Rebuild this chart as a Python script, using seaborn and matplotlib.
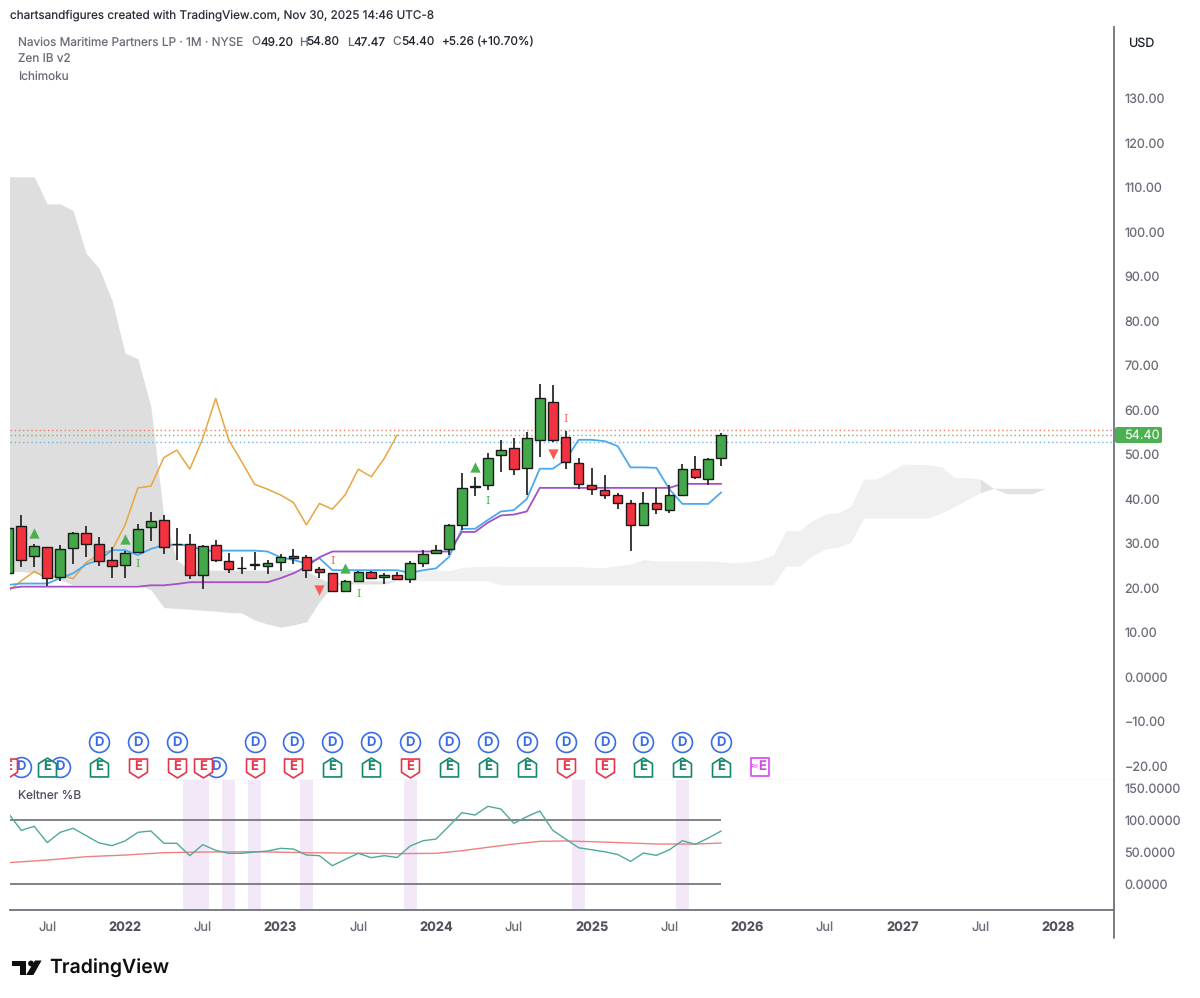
import numpy as np
import pandas as pd
import seaborn as sns
import matplotlib.pyplot as plt
from matplotlib.lines import Line2D
from matplotlib.patches import FancyBboxPatch
from matplotlib.path import Path

sns.set_theme(style="white")
plt.rcParams["font.family"] = ["Inter", "Liberation Sans", "DejaVu Sans"]
plt.rcParams["text.hinting"] = "no_hinting"

# months counted from Jan 2022, candles run Apr 2021 - Nov 2025
months = list(range(-9, 47))
opens = [23.4, 33.9, 27.2, 29.3, 22.4, 28.9, 32.4, 29.9, 26.4, 25.2, 28.0, 33.6, 35.3, 29.95,
         29.9, 23.0, 29.6, 26.0, 24.6, 25.35, 25.0, 25.8, 27.3, 26.9, 24.2, 23.3, 19.3, 21.6,
         23.7, 22.4, 23.0, 22.1, 25.7, 27.8, 28.7, 34.1, 42.7, 43.2, 49.8, 51.4, 46.9, 53.3,
         61.9, 53.9, 48.2, 43.1, 42.0, 40.8, 39.0, 34.1, 39.2, 37.5, 41.0, 46.7, 44.5, 49.20]
highs = [34.0, 36.4, 29.9, 29.3, 29.6, 32.6, 33.9, 31.4, 29.1, 28.4, 34.3, 37.1, 36.3, 33.4,
         32.1, 29.7, 30.7, 27.9, 26.9, 28.2, 26.4, 27.6, 28.7, 27.4, 24.7, 23.3, 21.8, 23.8,
         23.9, 23.4, 23.6, 26.1, 28.5, 29.6, 34.4, 45.8, 44.9, 50.3, 53.3, 53.8, 55.0, 65.9,
         65.7, 55.3, 49.3, 46.9, 45.5, 41.4, 39.8, 41.5, 42.5, 43.1, 47.9, 49.6, 49.1, 54.80]
lows = [23.0, 24.8, 24.8, 20.4, 21.6, 25.4, 26.9, 25.0, 22.3, 22.3, 27.8, 30.6, 27.6, 26.3,
        22.0, 19.7, 25.8, 23.4, 23.1, 24.0, 23.1, 23.8, 25.5, 22.2, 22.2, 19.3, 19.3, 21.4,
        22.1, 21.0, 21.8, 21.2, 24.8, 27.8, 27.4, 33.1, 40.7, 42.0, 46.1, 45.5, 40.9, 49.4,
        52.8, 46.8, 42.2, 40.8, 40.0, 37.8, 28.4, 34.1, 36.6, 36.8, 41.0, 44.6, 43.1, 47.47]
closes = [33.4, 26.4, 29.4, 22.2, 28.8, 32.3, 29.9, 26.1, 25.0, 27.8, 33.2, 35.0, 29.3, 29.85,
          23.0, 29.5, 26.3, 24.3, 24.55, 25.25, 25.7, 27.0, 26.7, 24.1, 23.7, 19.3, 21.6, 23.7,
          22.2, 23.0, 22.1, 25.7, 27.6, 28.5, 34.1, 42.5, 43.0, 49.3, 51.0, 46.7, 53.6, 62.6,
          53.3, 48.4, 43.3, 42.2, 40.9, 39.2, 34.2, 39.0, 37.7, 41.0, 46.7, 45.0, 49.0, 54.40]

tenkan = [20.7, 21, 21, 21, 22.2, 23.3, 25.3, 26.3, 28.5, 28.5, 27.4, 28.8, 29.6, 29.7, 29.6,
          28.4, 28.4, 28.4, 28.4, 28.4, 28.2, 26.9, 26.3, 25.5, 26.7, 24, 24, 24, 24, 24, 24,
          23.4, 24, 24.4, 27, 33.3, 33.3, 35.3, 37.2, 37.5, 40, 46.8, 46.8, 48.8, 53.3, 53.3,
          53, 51.9, 47.1, 47.1, 47, 42.2, 38.9, 38.9, 38.9, 41.5]
kijun = [19.9, 20.3, 20.3, 20.3, 20.3, 20.3, 20.3, 20.3, 20.3, 20.3, 20.3, 20.6, 20.6, 20.9, 21.3,
         21.3, 21.3, 21.3, 21.3, 21.3, 21.3, 22.2, 23.3, 24.8, 26.9, 28.2, 28.2, 28.2, 28.2, 28.2,
         28.2, 28.2, 28.2, 28.2, 28.2, 32.6, 32.6, 34.7, 36.3, 36.5, 37.2, 42.5, 42.5, 42.5, 42.5,
         42.5, 42.5, 42.5, 42.5, 42.5, 42.5, 42.5, 43.4, 43.4, 43.4, 43.4]
chikou_months = list(range(-9, 22))
chikou = [19.3, 21.6, 23.7, 22.2, 23.0, 22.1, 25.7, 27.6, 28.5, 34.1, 42.5, 42.9, 49.3, 51.0, 46.7,
          53.6, 62.6, 53.3, 48.4, 43.3, 42.2, 40.9, 39.2, 34.2, 39.0, 37.7, 41.0, 46.7, 45.0, 49.1, 54.4]

cloud_a_months = list(range(-9, 22))
cloud_a_top = [112.4, 112.4, 112.4, 106.3, 106.3, 104.8, 95.2, 91.9, 84.7, 72.8, 71.5, 60.7, 36, 26.3,
               24, 24, 24, 24, 24, 24, 24, 24, 24, 23.9, 22.2, 21.0, 21.6, 21.6, 21.6, 21.6, 21.6]
cloud_a_bot = [23.7, 23.7, 23.4, 22.8, 21.8, 20.7, 20.7, 20.7, 20.7, 20.7, 20.7, 19.6, 15.6, 15.4,
               15.2, 15, 14.8, 14.5, 14.4, 12.8, 11.9, 11.2, 11.7, 12.4, 16.9, 20.5, 20.9, 20.9, 20.9, 20.9, 21.6]
cloud_b_months = list(range(21, 67))
cloud_b_top = [21.6, 23.9, 23.9, 24, 23.9, 24.6, 24.8, 24.9, 24.9, 24.8, 24.8, 24.8, 24.8, 24.8, 24.8,
               24.6, 24.6, 25, 25.4, 26.4, 26.1, 26.1, 26.1, 26.1, 26.1, 25.9, 25.7, 25.9, 26.3, 27.4,
               32.9, 32.9, 35.1, 36.6, 36.9, 38.4, 44.5, 44.5, 46.1, 47.8, 47.8, 47.7, 47.2, 44.8, 44.8, 44.5]
cloud_b_bot = [21.6, 21.6, 21.6, 21.6, 21.6, 21.6, 21.6, 21.6, 20.7, 20.7, 20.7, 20.7, 20.7, 20.7, 20.7,
               20.7, 20.7, 20.7, 20.7, 20.7, 20.7, 20.7, 20.7, 20.7, 20.7, 20.7, 20.7, 20.7, 20.7, 20.7,
               24.9, 24.9, 27.2, 28.7, 29.2, 30.3, 35.7, 35.7, 35.7, 35.7, 35.7, 35.7, 36.9, 38.3, 39.9, 41.4]
cloud_c_months = [66, 67, 68, 69, 70, 71]
cloud_c_top = [44.5, 42.4, 42.4, 42.4, 42.4, 42.4]
cloud_c_bot = [41.4, 42.4, 41.2, 41.2, 41.2, 42.4]

last_lines = [55.5, 54.4, 52.9]
up_arrows_m, up_arrows_p = [-7, 0, 17, 27], [32.4, 30.9, 24.5, 47.3]
down_arrows_m, down_arrows_p = [15, 33], [19.6, 50.0]
green_i_m, green_i_p = [1, 18, 28], [25.4, 18.7, 39.5]
red_i_m, red_i_p = [16, 34], [26.0, 57.9]

div_top = [-2, 1, 4, 10, 13, 16, 19, 22, 25, 28, 31, 34, 37, 40, 43, 46]
div_low = [-8, -5, 7]
earn_green = [-6, -2, 16, 19, 25, 28, 31, 40, 43, 46]
earn_red = [-9, 1, 4, 6, 10, 13, 22, 34, 37]
earn_next = [49]

keltner = [110, 83.4, 89.7, 64.2, 80.3, 86.6, 75.1, 63.7, 59.5, 66.8, 80.3, 82.4, 63.2, 63.2, 43.8,
           61.0, 52.2, 47.5, 47.5, 49.5, 51.1, 55.3, 54.2, 44.9, 43.8, 28.2, 38.1, 47.5, 40.7, 43.8,
           41.0, 58.9, 67.2, 69.8, 90.1, 111, 107.3, 120.9, 116.7, 94.3, 104.7, 113.6, 83.4, 69.8,
           56.2, 53.1, 50.0, 45.8, 34.9, 47.9, 44.3, 53.1, 67.2, 61.5, 71.4, 82.4]
keltner_ma_m = [-9, -6, -3, 0, 3, 6, 10, 14, 19, 21, 24, 26, 28, 30, 32, 34, 36, 39, 41, 44, 46]
keltner_ma = [32.9, 37, 42.2, 44.8, 48.5, 49.5, 50, 48.5, 47.5, 47, 47.5, 51.6, 56.9, 62, 66.2, 66.8,
              65.7, 63.6, 62, 62, 63.6]
bands = [(4.5, 6.5), (7.5, 8.5), (9.5, 10.5), (13.5, 14.5), (21.5, 22.5), (34.5, 35.5), (42.5, 43.5)]

price_ticks = [130, 120, 110, 100, 90, 80, 70, 60, 50, 40, 30, 20, 10, 0, -10, -20]
price_labels = ["130.00", "120.00", "110.00", "100.00", "90.00", "80.00", "70.00", "60.00", "50.00",
                "40.00", "30.00", "20.00", "10.00", "0.0000", "\u221210.00", "\u221220.00"]
kelt_ticks = [150, 100, 50, 0]
kelt_labels = ["150.0000", "100.0000", "50.0000", "0.0000"]
time_ticks = [-6, 0, 6, 12, 18, 24, 30, 36, 42, 48, 54, 60, 66, 72]
time_labels = ["Jul", "2022", "Jul", "2023", "Jul", "2024", "Jul", "2025", "Jul", "2026", "Jul", "2027", "Jul", "2028"]

GREEN, RED = "#43a84a", "#f2323f"
BLUE_E, GREEN_E, RED_E, PINK_E = "#3a6ee8", "#14866b", "#e5354b", "#d946ef"
GREY_TXT, DARK_TXT = "#6a6d78", "#1e222d"
AXIS = "#6f7279"


def fx(x):
    return x / 1200


def fy(y):
    return 1 - y / 998


fig = plt.figure(figsize=(12, 9.98), dpi=100, facecolor="white")
ax = fig.add_axes([fx(10), fy(780), fx(1104), 753 / 998])
ax2 = fig.add_axes([fx(10), fy(910), fx(1104), 130 / 998])
xlim = (-8.87, 76.3)

# ichimoku cloud
ax.fill_between(cloud_a_months, cloud_a_bot, cloud_a_top, color="#dedede", lw=0, zorder=1)
ax.fill_between(cloud_b_months, cloud_b_bot, cloud_b_top, color="#f0f0f0", lw=0, zorder=1)
ax.fill_between(cloud_c_months, cloud_c_bot, cloud_c_top, color="#e2e2e2", lw=0, zorder=1)

for val, col in zip(last_lines, ["#ef7f6e", "#6dbb70", "#6cb4ee"]):
    ax.axhline(val, color=col, lw=1.0, ls=(0, (1, 2)), zorder=2)

sns.lineplot(x=chikou_months, y=chikou, ax=ax, color="#e9a540", lw=1.1, zorder=3)
sns.lineplot(x=months, y=tenkan, ax=ax, color="#4aa9ef", lw=1.3, zorder=3)
sns.lineplot(x=months, y=kijun, ax=ax, color="#a650c8", lw=1.3, zorder=3)

# candles
df = pd.DataFrame({"m": months, "o": opens, "h": highs, "l": lows, "c": closes})
df["col"] = np.where(df.c >= df.o, GREEN, RED)
ax.vlines(df.m, df.l, df.h, color="#2b2b2b", lw=1.3, zorder=4)
ax.bar(df.m, (df.c - df.o).abs(), bottom=df[["o", "c"]].min(axis=1), width=0.74, color=df.col,
       edgecolor="#1a1a1a", lw=1.0, zorder=5)

sns.scatterplot(x=up_arrows_m, y=up_arrows_p, ax=ax, marker="^", s=55, color="#4caf50", lw=0, zorder=6)
sns.scatterplot(x=down_arrows_m, y=down_arrows_p, ax=ax, marker="v", s=55, color="#ff5a52", lw=0, zorder=6)
for m, p in zip(green_i_m, green_i_p):
    ax.text(m, p, "I", color="#4caf50", fontsize=8, family="DejaVu Serif", ha="center", va="center", zorder=6)
for m, p in zip(red_i_m, red_i_p):
    ax.text(m, p, "I", color="#ff5a52", fontsize=8, family="DejaVu Serif", ha="center", va="center", zorder=6)

# dividend and earnings badges
row_top, row_low = -14.6, -20.2
up_badge = Path([(-0.95, -1), (0.95, -1), (0.95, 0.4), (0, 1), (-0.95, 0.4), (-0.95, -1)], closed=True)
down_badge = Path([(-0.95, 1), (0.95, 1), (0.95, -0.4), (0, -1), (-0.95, -0.4), (-0.95, 1)], closed=True)
for ms, row in [(div_top, row_top), (div_low, row_low)]:
    ax.scatter(ms, [row] * len(ms), marker="o", s=205, facecolor="white", edgecolor=BLUE_E, lw=1.2, zorder=7)
    for m in ms:
        ax.text(m, row, "D", color=BLUE_E, fontsize=9.4, fontweight="semibold", ha="center", va="center",
                zorder=7, clip_on=True)
ax.scatter(earn_green, [row_low] * len(earn_green), marker=up_badge, s=185, facecolor="white",
           edgecolor=GREEN_E, lw=1.2, joinstyle="round", zorder=8)
ax.scatter(earn_red, [row_low - 0.2] * len(earn_red), marker=down_badge, s=185, facecolor="white",
           edgecolor=RED_E, lw=1.2, joinstyle="round", zorder=8)
ax.scatter(earn_next, [row_low] * len(earn_next), marker="s", s=175, facecolor="white",
           edgecolor=PINK_E, lw=1.2, joinstyle="round", zorder=8)
for ms, col in [(earn_green, GREEN_E), (earn_red, RED_E)]:
    for m in ms:
        ax.text(m, row_low, "E", color=col, fontsize=9.4, fontweight="semibold", ha="center", va="center",
                zorder=9, clip_on=True)
for m in earn_next:
    ax.text(m + 0.15, row_low, "E", color=PINK_E, fontsize=9.4, fontweight="semibold", ha="center", va="center", zorder=9)
    ax.text(m - 0.45, row_low, "\u2248", color=PINK_E, fontsize=7.5, family="DejaVu Sans", ha="center", va="center", zorder=9)

ax.set_xlim(xlim)
ax.set_ylim(-23.15, 146.07)
ax.set_xticks([])
ax.yaxis.tick_right()
ax.set_yticks(price_ticks, price_labels)
ax.tick_params(axis="y", length=0, pad=7.5, labelsize=9.1, labelcolor=GREY_TXT)
ax.set_xlabel("")
for s in ["top", "left"]:
    ax.spines[s].set_visible(False)
ax.spines["right"].set_color(AXIS)
ax.spines["right"].set_linewidth(1.3)
ax.spines["bottom"].set_color("#e0e3eb")
ax.spines["bottom"].set_linewidth(1.0)

# keltner pane
for lo, hi in bands:
    ax2.axvspan(lo, hi, color="#f3e8f8", lw=0, zorder=1)
ax2.hlines([100, 0], xlim[0], months[-1], color="#77787c", lw=1.3, zorder=2)
sns.lineplot(x=keltner_ma_m, y=keltner_ma, ax=ax2, color="#ef8080", lw=1.0, zorder=3)
sns.lineplot(x=months, y=keltner, ax=ax2, color="#4fa99b", lw=1.0, zorder=4)
ax2.set_xlim(xlim)
ax2.set_ylim(-41, 162)
ax2.yaxis.tick_right()
ax2.set_yticks(kelt_ticks, kelt_labels)
ax2.set_xticks(time_ticks, time_labels)
ax2.tick_params(axis="y", length=0, pad=7.5, labelsize=9.1, labelcolor=GREY_TXT)
ax2.tick_params(axis="x", length=0, pad=8, labelsize=9.3, labelcolor=GREY_TXT)
for lab, txt in zip(ax2.get_xticklabels(), time_labels):
    if txt != "Jul":
        lab.set_fontweight("bold")
        lab.set_color("#50535e")
for s in ["top", "left"]:
    ax2.spines[s].set_visible(False)
ax2.spines["right"].set_color(AXIS)
ax2.spines["right"].set_linewidth(1.3)
ax2.spines["bottom"].set_color(AXIS)
ax2.spines["bottom"].set_linewidth(1.3)
fig.add_artist(Line2D([fx(1114), fx(1114)], [fy(910), fy(938)], color=AXIS, lw=1.3))

# header and legend text
fig.text(fx(10), fy(15.5), "chartsandfigures created with TradingView.com, Nov 30, 2025 14:46 UTC-8",
         fontsize=8.45, color="#2a2e39", va="center")
fig.text(fx(18), fy(42.5), "Navios Maritime Partners LP \u00b7 1M \u00b7 NYSE", fontsize=8.5, color=GREY_TXT, va="center")
for x, s, col in [(251, "O", GREY_TXT), (260, "49.20", DARK_TXT), (299, "H", GREY_TXT), (306, "54.80", DARK_TXT),
                  (347, "L", GREY_TXT), (353, "47.47", DARK_TXT), (392, "C", GREY_TXT), (401, "54.40", DARK_TXT),
                  (441, "+5.26", DARK_TXT), (477, "(+10.70%)", DARK_TXT)]:
    fig.text(fx(x), fy(42.5), s, fontsize=8.5, color=col, va="center")
fig.text(fx(18), fy(59.5), "Zen IB v2", fontsize=8.5, color=GREY_TXT, va="center")
fig.text(fx(18), fy(76.5), "Ichimoku", fontsize=8.5, color=GREY_TXT, va="center")
fig.text(fx(18), fy(796), "Keltner %B", fontsize=8.6, color="#50535e", va="center")
fig.text(fx(1128), fy(43), "USD", fontsize=9, color=DARK_TXT, va="center")

# logo and last price tag, drawn in pixel coordinates
over = fig.add_axes([0, 0, 1, 1], facecolor="none")
over.set_xlim(0, 1200)
over.set_ylim(998, 0)
over.axis("off")
over.add_patch(FancyBboxPatch((1117, 429), 43, 12, boxstyle="round,pad=2,rounding_size=2", fc="#4caf50", ec="none"))
over.text(1124, 435, "54.40", fontsize=9.1, color="#e6f6e6", va="center")
over.fill([12, 26, 26, 20, 20, 12], [960.5, 960.5, 975, 975, 966, 966], color="#0f0f0f", lw=0)
over.add_patch(plt.Circle((31, 963.5), 2.9, color="#0f0f0f", lw=0))
over.fill([35, 41.6, 33.4, 26], [960.5, 960.5, 975, 975], color="#0f0f0f", lw=0)
over.text(49.5, 968, "TradingView", fontsize=14, fontweight="semibold", color="#0f0f0f", va="center")

fig.savefig("out.png", dpi=100)
